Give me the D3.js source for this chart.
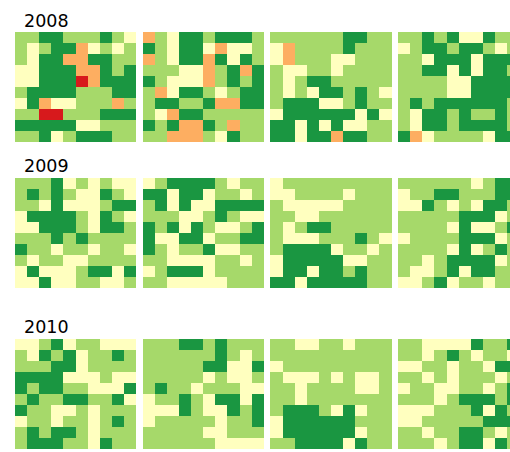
<!DOCTYPE html>
<html><head><meta charset="utf-8">
<script src="https://cdn.jsdelivr.net/npm/d3@7"></script>
<style>html,body{margin:0;padding:0;background:#fff;overflow:hidden}</style>
</head><body>
<script>
// Class values: 0 red, 1 orange, 2 pale yellow, 3 light green, 4 dark green
const years = ["2008", "2009", "2010"];
const classes = [0, 1, 2, 3, 4];

const grid2008 = [
  ["3344333432","3234412323","3244114433","2244411434","2244401444","3444433344","2412233313","3300333444","4444422333","3342344433"],
  ["1324434443","4324421223","1324414243","3332213414","4322213434","3124432344","3443341144","3214433333","4341143133","3311132433"],
  ["3333334433","2133334333","2133322333","3223323333","3234433333","3232443432","3444223433","2444444242","4424242233","4424414433"],
  ["3343422433","2344344323","3324442444","3344242443","3333224444","3333224444","3434444443","3244343343","3244344443","4123333244"]
];
const grid2009 = [
  ["3334232322","3434322432","3324222344","2444432432","2244432443","3334343333","4332332332","3233223333","2422234424","2242233223"],
  ["2344443233","4424423323","3424224444","3332234322","4342432234","4224423344","4323342233","3322223323","2344423333","3322222333"],
  ["2333333333","2233332333","3222223333","3322333333","3234433333","3222333432","3444423323","2444442233","2442443433","4424444433"],
  ["3333332344","2334433344","2243232443","3333344423","3333242234","2333344423","3333242343","3323444423","3223424433","2234233233"]
];
const grid2010 = [
  ["2234233222","3243423343","3334423333","4444222322","4344332224","3433443342","4332232333","2332332343","3434432333","3444332433"],
  ["3334434333","3333334323","3333344224","3333323223","3433233322","2334324424","2224322434","2333332334","3333322333","3333332222"],
  ["3322332333","3333333333","2333333333","3222323223","3323333223","3323333333","3444324233","2444444333","2444444233","3344442433"],
  ["3322224334","3323432332","2233233244","3323233323","2332233234","3332344434","2223334243","2233333444","3323344323","3332344243"]
];
const gridsByYear = [grid2008, grid2009, grid2010];

// layout
const W = 510, H = 452;
const rowTop = [32, 178, 339];
const titleBase = [27, 172, 333];
const panelW = 121, panelH = 110;

const svg = d3.select("body").append("svg")
  .attr("width", W).attr("height", H)
  .style("display", "block");

const color = d3.scaleOrdinal().domain(classes).range(d3.schemeRdYlGn[5]);
const panelX = d3.scaleLinear().domain([0, 1]).range([15, 142.7]);
const cx = d3.scaleBand().domain(d3.range(10)).range([0, panelW]);
const cy = d3.scaleBand().domain(d3.range(10)).range([0, panelH]);

years.forEach((yr, yi) => {
  svg.append("text")
    .attr("x", 24).attr("y", titleBase[yi])
    .attr("font-family", "DejaVu Sans, sans-serif")
    .attr("font-size", 17.5)
    .attr("fill", "#000")
    .text(yr);

  gridsByYear[yi].forEach((panel, pi) => {
    const cells = [];
    panel.forEach((row, r) => {
      row.split("").forEach((ch, c) => cells.push({ r, c, v: +ch }));
    });
    const g = svg.append("g")
      .attr("transform", `translate(${panelX(pi)},${rowTop[yi]})`);
    g.selectAll("rect").data(cells).join("rect")
      .attr("x", d => cx(d.c))
      .attr("y", d => cy(d.r))
      .attr("width", cx.bandwidth() + 0.3)
      .attr("height", cy.bandwidth() + 0.3)
      .attr("fill", d => color(d.v))
      .attr("shape-rendering", "crispEdges");
  });
});
</script>
</body></html>
